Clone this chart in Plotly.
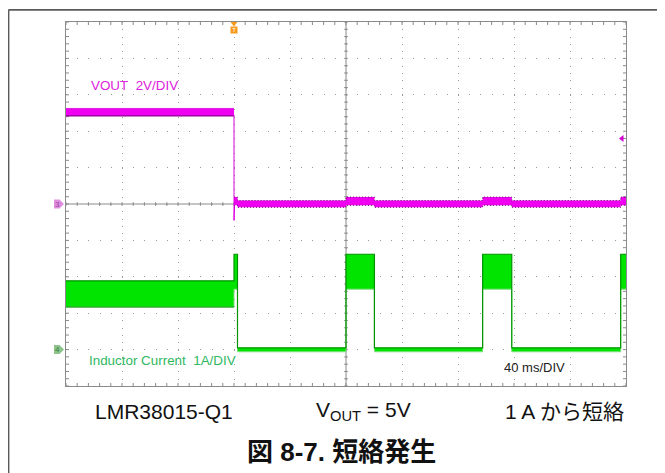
import plotly.graph_objects as go

# ---------------- data (read from the scope capture) ----------------
T_DIV = 40          # ms per division
N_DIV_X = 10
N_DIV_Y = 10

# VOUT channel: 2 V/div, ground marker at 5 div
VOUT_SCALE = 2.0
VOUT_GND_DIV = 5
vout_t  = [0, 120, 120, 122.5, 122.5, 200, 200, 220.3, 220.3, 297.6, 297.6, 318.4, 318.4, 396.2, 396.2, 400]
vout_hi = [5.25, 5.25, 0.38, 0.38, 0.19, 0.19, 0.38, 0.38, 0.19, 0.19, 0.38, 0.38, 0.19, 0.19, 0.38, 0.38]
vout_lo = [4.84, 4.84, -0.07, -0.07, -0.18, -0.18, -0.07, -0.07, -0.18, -0.18, -0.07, -0.07, -0.18, -0.18, -0.07, -0.07]
vout_drop_t = [120, 120, 120.4]
vout_drop_v = [4.9, -0.9, -0.1]

# Inductor current channel: 1 A/div, ground marker at 1 div
IL_SCALE = 1.0
IL_GND_DIV = 1
il_t  = [0, 120, 120, 122.5, 122.5, 200, 200, 220.3, 220.3, 297.6, 297.6, 318.4, 318.4, 396.2, 396.2, 400]
il_hi = [1.89, 1.89, 2.62, 2.62, 0.05, 0.05, 2.62, 2.62, 0.05, 0.05, 2.62, 2.62, 0.05, 0.05, 2.62, 2.62]
il_lo = [1.17, 1.17, 1.66, 1.66, -0.06, -0.06, 1.66, 1.66, -0.06, -0.06, 1.66, 1.66, -0.06, -0.06, 1.66, 1.66]

TRIG_T = 120        # ms
TRIG_LEVEL_V = 3.6  # V

label_vout = "VOUT\u00a0\u00a02V/DIV"
label_il = "Inductor Current\u00a0\u00a01A/DIV"
label_time = "40 ms/DIV"
caption_left = "LMR38015-Q1"
caption_mid = "V<sub>OUT</sub> = 5V"
caption_right = "1 A から短絡"
title_text = "<b>図 8-7. 短絡発生</b>"

# ---------------- layout geometry ----------------
# the page body adds an 8 px margin, so the figure is drawn 8 px smaller
BODY = 8
W, H = 665 - BODY, 473 - BODY
PLOT_L, PLOT_R, PLOT_T, PLOT_B = 66, 626, 22, 386   # page pixels
ML, MT = PLOT_L - BODY, PLOT_T - BODY
MR, MB = W - (PLOT_R - BODY), H - (PLOT_B - BODY)
PW, PH = PLOT_R - PLOT_L, PLOT_B - PLOT_T
X_MAX = T_DIV * N_DIV_X
px_x = X_MAX / PW          # ms per pixel
px_y = N_DIV_Y / PH        # div per pixel

def vdiv(v):
    return VOUT_GND_DIV + v / VOUT_SCALE

def idiv(i):
    return IL_GND_DIV + i / IL_SCALE

def px2x(px):   # page px -> data x
    return (px - PLOT_L) * px_x

def py2y(py):   # page px -> data y
    return (PLOT_B - py) * px_y

def px2paper(px):
    return (px - PLOT_L) / PW

def py2paper(py):
    return (PLOT_B - py) / PH

FONT = "Liberation Sans, Arial, Noto Sans CJK JP, sans-serif"
MAG = "#f000f0"
MAG_DARK = "#6a006a"
GRN = "#00e400"
GRN_DARK = "#009400"
GRN_LIGHT = "#80dd80"
GRID = "#9a9a9a"
BORDER = "#8a8a8a"

fig = go.Figure()

# ---- tick marks on border and centre cross ----
tx, ty = [], []
tl = 3  # px
for k in range(N_DIV_X * 5 + 1):
    x = k * T_DIV / 5
    tx += [x, x, None, x, x, None, x, x, None]
    ty += [0, tl * px_y, None, N_DIV_Y, N_DIV_Y - tl * px_y, None,
           N_DIV_Y / 2 - 1.8 * px_y, N_DIV_Y / 2 + 1.8 * px_y, None]
for k in range(N_DIV_Y * 5 + 1):
    y = k * 0.2
    tx += [0, tl * px_x, None, X_MAX, X_MAX - tl * px_x, None,
           X_MAX / 2 - 1.8 * px_x, X_MAX / 2 + 1.8 * px_x, None]
    ty += [y, y, None, y, y, None, y, y, None]
tx += [0, X_MAX, None, X_MAX / 2, X_MAX / 2]
ty += [N_DIV_Y / 2, N_DIV_Y / 2, None, 0, N_DIV_Y]
fig.add_trace(go.Scatter(x=tx, y=ty, mode="lines", line=dict(color=BORDER, width=1),
                         hoverinfo="skip", showlegend=False))

# ---- inductor current band ----
fig.add_trace(go.Scatter(x=il_t, y=[idiv(v) for v in il_lo], mode="lines",
                         line=dict(color=GRN_LIGHT, width=1), showlegend=False))
fig.add_trace(go.Scatter(x=il_t, y=[idiv(v) for v in il_hi], mode="lines", fill="tonexty",
                         fillcolor=GRN, line=dict(color=GRN_DARK, width=1.2), showlegend=False))
fig.add_trace(go.Scatter(x=il_t[:2], y=[idiv(v) for v in il_lo[:2]], mode="lines",
                         line=dict(color=GRN_DARK, width=1.2), showlegend=False))

# ---- VOUT band ----
fig.add_trace(go.Scatter(x=vout_t, y=[vdiv(v) for v in vout_lo], mode="lines",
                         line=dict(width=0), showlegend=False))
fig.add_trace(go.Scatter(x=vout_t, y=[vdiv(v) for v in vout_hi], mode="lines", fill="tonexty",
                         fillcolor=MAG, line=dict(width=0), showlegend=False))
fig.add_trace(go.Scatter(x=vout_t[2:], y=[vdiv(v) for v in vout_lo[2:]], mode="lines",
                         line=dict(color=MAG_DARK, width=1, dash="1px,2px"), showlegend=False))
fig.add_trace(go.Scatter(x=vout_t[2:], y=[vdiv(v) for v in vout_hi[2:]], mode="lines",
                         line=dict(color=MAG_DARK, width=1, dash="1px,2px"), showlegend=False))
fig.add_trace(go.Scatter(x=vout_t[:2], y=[vdiv(v) for v in vout_lo[:2]], mode="lines",
                         line=dict(color="#900090", width=1.2), showlegend=False))
fig.add_trace(go.Scatter(x=vout_t[:2], y=[vdiv(v) for v in vout_hi[:2]], mode="lines",
                         line=dict(color="#e020e0", width=1), showlegend=False))
fig.add_trace(go.Scatter(x=vout_drop_t, y=[vdiv(v) for v in vout_drop_v], mode="lines",
                         line=dict(color="#e000e0", width=1), showlegend=False))

# ---- markers ----
fig.add_trace(go.Scatter(x=[TRIG_T], y=[N_DIV_Y - 0.04], mode="markers", cliponaxis=False,
                         marker=dict(symbol="triangle-down", size=6, color="#f59a1a"),
                         showlegend=False, hoverinfo="skip"))
fig.add_trace(go.Scatter(x=[TRIG_T], y=[N_DIV_Y - 8 * px_y], mode="markers+text", cliponaxis=False,
                         marker=dict(symbol="square", size=7, color="#f59a1a"),
                         text=["T"], textposition="middle center",
                         textfont=dict(size=6, color="white", family=FONT),
                         showlegend=False, hoverinfo="skip"))
fig.add_trace(go.Scatter(x=[X_MAX - 4 * px_x], y=[vdiv(TRIG_LEVEL_V)], mode="markers",
                         marker=dict(symbol="triangle-left", size=6, color="#d000d0"),
                         showlegend=False, hoverinfo="skip"))

# channel ground flags left of the graticule (paper-referenced so they are not clipped)
for gnd, fillc, txtc, lab in [(VOUT_GND_DIV, "#e08fe0", "#9a3a9a", "3"),
                              (IL_GND_DIV, "#8cc48c", "#3f7f3f", "4")]:
    gy = PLOT_B - gnd / px_y
    pts = [(54, gy - 4.5), (59.5, gy - 4.5), (64, gy), (59.5, gy + 4.5), (54, gy + 4.5)]
    path = "M " + " L ".join("%.5f,%.5f" % (px2paper(a), py2paper(b)) for a, b in pts) + " Z"
    fig.add_shape(type="path", xref="paper", yref="paper", path=path,
                  fillcolor=fillc, line=dict(width=0), layer="above")
    fig.add_annotation(xref="paper", yref="paper", x=px2paper(57.5), y=py2paper(gy),
                       text=lab, showarrow=False, xanchor="center", yanchor="middle",
                       font=dict(family=FONT, size=8, color=txtc))

# ---- in-plot labels ----
for x, y, text, size, color in [
    (px2x(89), py2y(85), label_vout, 13.4, "#dd22dd"),
    (px2x(87), py2y(360.7), label_il, 13.4, "#2fb85f"),
    (px2x(501.7), py2y(367), label_time, 13, "#222222"),
]:
    fig.add_annotation(xref="x", yref="y", xanchor="left", yanchor="middle", showarrow=False,
                       x=x, y=y, text=text, font=dict(family=FONT, size=size, color=color))

# ---- captions below ----
for x, y, text, anchor, size in [
    (164, 411, caption_left, "center", 21),
    (363, 411, caption_mid, "center", 21),
    (626, 411, caption_right, "right", 21),
    (341.5, 452, title_text, "center", 26),
]:
    fig.add_annotation(xref="paper", yref="paper", x=px2paper(x), y=py2paper(y), text=text,
                       showarrow=False, xanchor=anchor, yanchor="middle",
                       font=dict(family=FONT, size=size, color="#111111"))

# ---- page frame lines ----
fig.add_shape(type="line", xref="paper", yref="paper", x0=px2paper(8.5), x1=px2paper(665),
              y0=py2paper(9.8), y1=py2paper(9.8), line=dict(color="#5a5a5a", width=1.8))
fig.add_shape(type="line", xref="paper", yref="paper", x0=px2paper(8.5), x1=px2paper(8.5),
              y0=py2paper(9.8), y1=py2paper(473), line=dict(color="#5a5a5a", width=1.8))

fig.update_layout(
    width=W, height=H, margin=dict(l=ML, r=MR, t=MT, b=MB),
    paper_bgcolor="white", plot_bgcolor="white", showlegend=False,
    font=dict(family=FONT),
)
fig.update_xaxes(range=[0, X_MAX], dtick=T_DIV, tick0=0, showticklabels=False, ticks="",
                 showgrid=True, gridcolor=GRID, gridwidth=1,
                 griddash="1px,%.2fpx" % (PH / N_DIV_Y / 5 - 1),
                 zeroline=False, showline=True, mirror=True, linecolor=BORDER, linewidth=1.3,
                 fixedrange=True)
fig.update_yaxes(range=[0, N_DIV_Y], dtick=1, tick0=0, showticklabels=False, ticks="",
                 showgrid=True, gridcolor=GRID, gridwidth=1,
                 griddash="1px,%.2fpx" % (PW / N_DIV_X / 5 - 1),
                 zeroline=False, showline=True, mirror=True, linecolor=BORDER, linewidth=1.3,
                 fixedrange=True)

fig.write_html("out.html")
